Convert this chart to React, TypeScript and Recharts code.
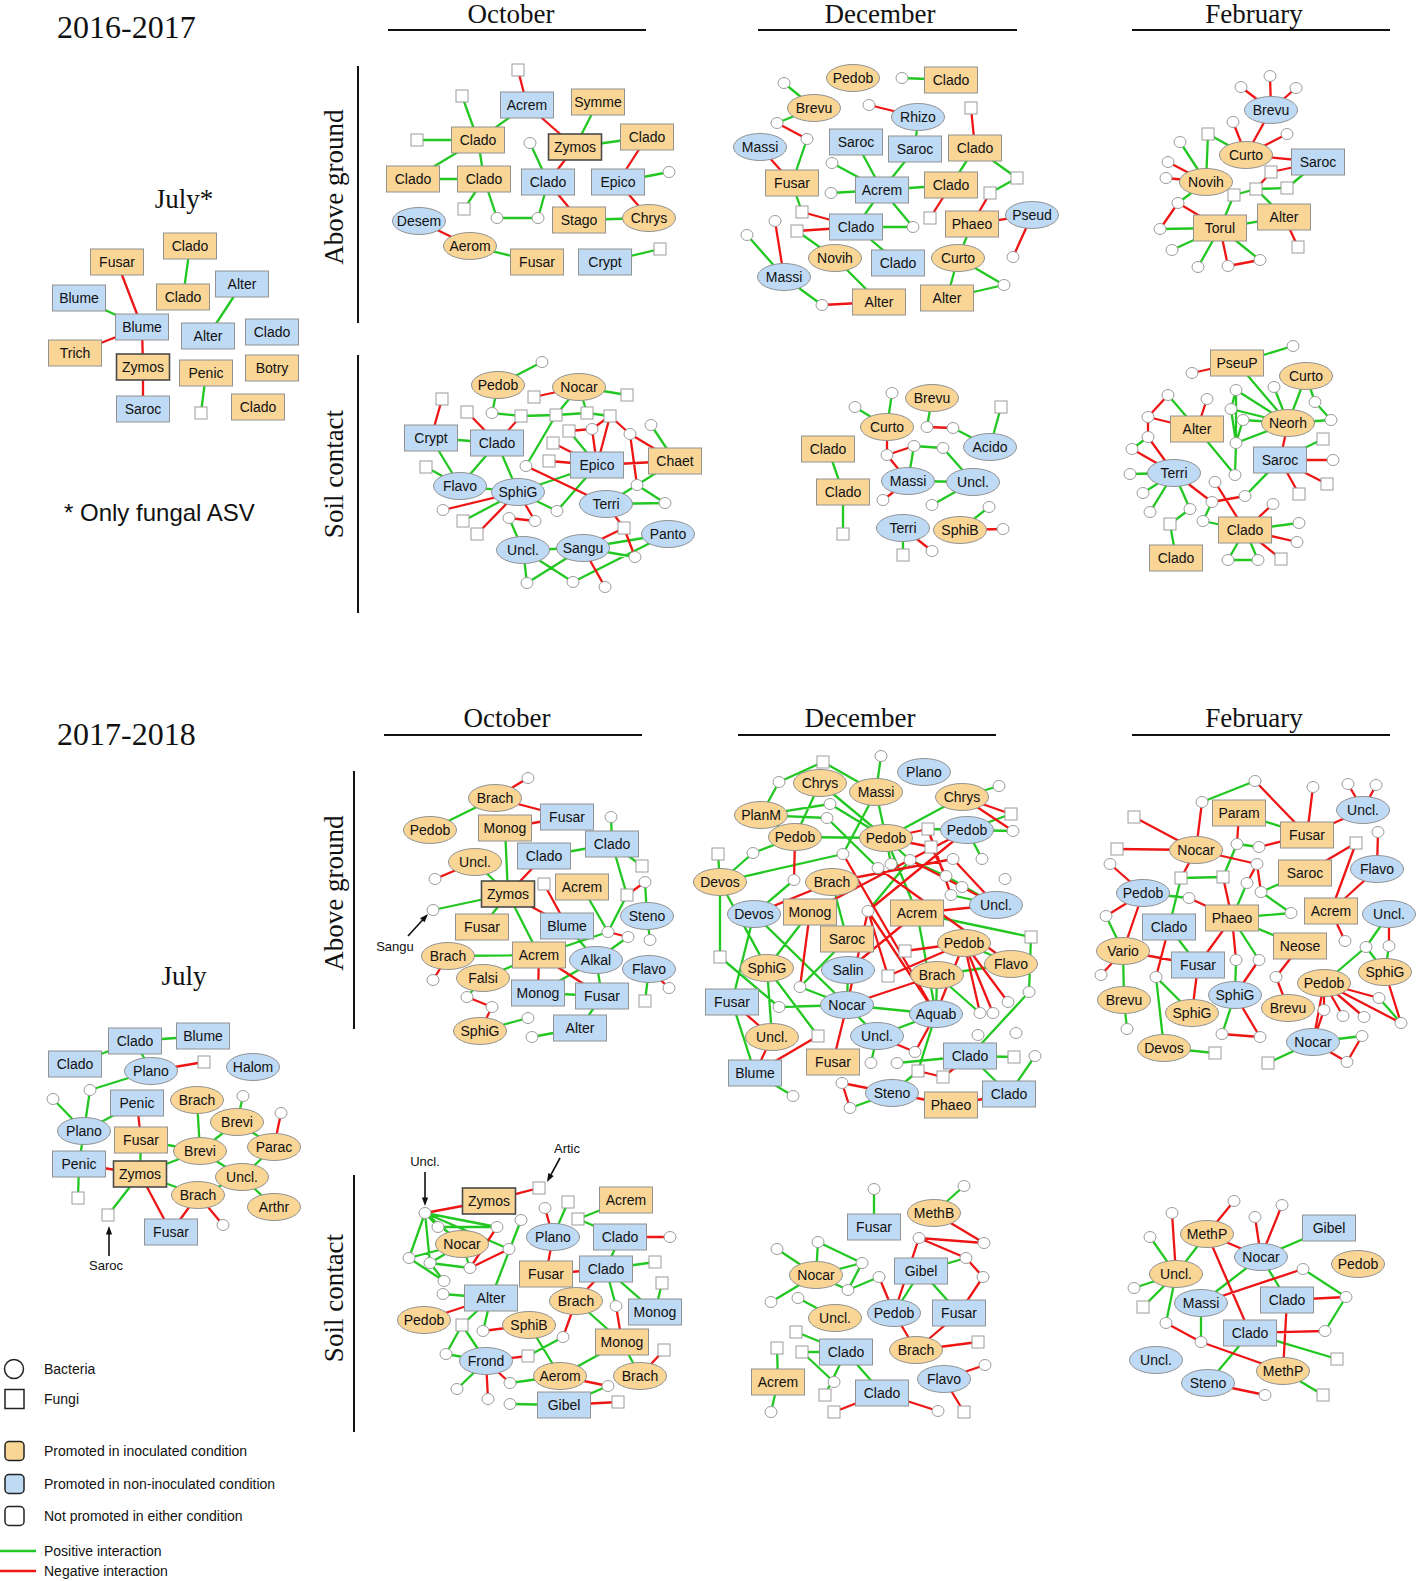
import React from "react";
import { ComposedChart, XAxis, YAxis, Line, Scatter } from "recharts";

// node: [label, x, y, kind, promoted]  kind: R = fungus (labelled), E = bacterium (labelled), s = fungus, c = bacterium
// promoted: o = inoculated, b = non-inoculated, w = neither
type N = [string, number, number, string, string?];
// link: [from, to, sign]  p = positive, n = negative
type L = [number, number, string];

const W = 1419;
const H = 1581;

// ---------- 2016-2017 ----------
const july16: N[] = [
  ["Fusar", 117, 262, "R", "o"], ["Clado", 190, 246, "R", "o"], ["Clado", 183, 297, "R", "o"],
  ["Alter", 242, 284, "R", "b"], ["Blume", 79, 298, "R", "b"], ["Blume", 142, 327, "R", "b"],
  ["Alter", 208, 336, "R", "b"], ["Clado", 272, 332, "R", "b"], ["Trich", 75, 353, "R", "o"],
  ["Zymos", 143, 367, "R", "o"], ["Penic", 206, 373, "R", "o"], ["Botry", 272, 368, "R", "o"],
  ["Saroc", 143, 409, "R", "b"], ["", 201, 413, "s"], ["Clado", 258, 407, "R", "o"],
];
const july16Links: L[] = [
  [0, 5, "n"], [1, 2, "p"], [3, 6, "p"], [4, 5, "p"], [5, 8, "n"], [5, 9, "n"], [9, 12, "n"], [10, 13, "p"],
];

const oct16Above: N[] = [
  ["", 518, 70, "s"], ["Acrem", 527, 105, "R", "b"], ["Symme", 598, 102, "R", "o"], ["", 462, 96, "s"],
  ["Clado", 478, 140, "R", "o"], ["", 417, 140, "s"], ["Zymos", 575, 147, "R", "o"], ["Clado", 647, 137, "R", "o"],
  ["", 530, 143, "c"], ["Clado", 413, 179, "R", "o"], ["Clado", 484, 179, "R", "o"], ["Clado", 548, 182, "R", "b"],
  ["Epico", 618, 182, "R", "b"], ["", 669, 172, "c"], ["", 464, 209, "s"], ["", 497, 218, "c"],
  ["", 538, 218, "c"], ["Stago", 579, 220, "R", "o"], ["Chrys", 649, 218, "E", "o"], ["Desem", 419, 221, "E", "b"],
  ["Aerom", 470, 246, "E", "o"], ["Fusar", 537, 262, "R", "o"], ["Crypt", 605, 262, "R", "b"], ["", 660, 249, "s"],
];
const oct16AboveLinks: L[] = [
  [0, 1, "n"], [1, 4, "p"], [1, 6, "n"], [2, 6, "p"], [3, 4, "p"], [5, 4, "p"], [4, 9, "p"], [4, 10, "p"],
  [9, 10, "p"], [6, 7, "p"], [6, 11, "n"], [7, 12, "n"], [12, 13, "p"], [12, 18, "n"], [8, 11, "p"],
  [10, 14, "p"], [10, 15, "p"], [15, 16, "p"], [16, 11, "p"], [11, 17, "n"], [17, 18, "p"], [19, 20, "n"],
  [20, 21, "p"], [22, 23, "p"],
];

const dec16Above: N[] = [
  ["Pedob", 853, 78, "E", "o"], ["", 902, 78, "c"], ["Clado", 951, 80, "R", "o"], ["", 784, 83, "c"],
  ["Brevu", 814, 108, "E", "o"], ["", 869, 105, "c"], ["Rhizo", 918, 117, "E", "b"], ["", 971, 108, "s"],
  ["", 777, 123, "c"], ["", 807, 139, "c"], ["Massi", 760, 147, "E", "b"], ["Saroc", 856, 142, "R", "b"],
  ["Saroc", 915, 149, "R", "b"], ["Clado", 975, 148, "R", "o"], ["Fusar", 792, 183, "R", "o"], ["", 832, 163, "c"],
  ["Acrem", 882, 190, "R", "b"], ["Clado", 951, 185, "R", "o"], ["", 831, 193, "c"], ["", 1017, 178, "s"],
  ["", 990, 193, "s"], ["", 802, 212, "s"], ["", 930, 218, "s"], ["Clado", 856, 227, "R", "b"],
  ["Phaeo", 972, 224, "R", "o"], ["Pseud", 1032, 215, "E", "b"], ["", 913, 227, "c"], ["", 797, 231, "s"],
  ["", 775, 221, "c"], ["", 747, 235, "c"], ["Novih", 835, 258, "E", "o"], ["Clado", 898, 263, "R", "b"],
  ["Curto", 958, 258, "E", "o"], ["", 1013, 257, "c"], ["Massi", 784, 277, "E", "b"], ["Alter", 879, 302, "R", "o"],
  ["Alter", 947, 298, "R", "o"], ["", 822, 305, "c"], ["", 1004, 285, "c"],
];
const dec16AboveLinks: L[] = [
  [1, 2, "p"], [3, 4, "p"], [4, 8, "p"], [8, 9, "n"], [9, 14, "p"], [5, 6, "n"], [6, 12, "p"], [7, 13, "n"],
  [10, 14, "n"], [11, 16, "p"], [12, 16, "p"], [15, 16, "p"], [18, 16, "p"], [16, 17, "p"], [13, 17, "p"],
  [13, 19, "p"], [19, 20, "p"], [20, 24, "n"], [17, 22, "n"], [16, 23, "p"], [16, 26, "p"], [23, 26, "p"],
  [14, 21, "p"], [21, 23, "n"], [27, 23, "n"], [27, 30, "p"], [23, 31, "p"], [24, 25, "n"], [25, 33, "n"],
  [24, 32, "p"], [32, 36, "p"], [32, 38, "p"], [36, 38, "p"], [28, 34, "n"], [29, 34, "p"], [30, 35, "p"],
  [34, 37, "p"], [37, 35, "n"],
];

const feb16Above: N[] = [
  ["", 1270, 76, "c"], ["", 1241, 87, "c"], ["", 1296, 88, "c"], ["Brevu", 1271, 110, "E", "b"],
  ["", 1233, 122, "c"], ["", 1287, 134, "c"], ["", 1208, 134, "s"], ["", 1180, 142, "c"],
  ["Curto", 1246, 155, "E", "o"], ["Saroc", 1318, 162, "R", "b"], ["", 1168, 162, "c"], ["", 1271, 172, "s"],
  ["Novih", 1206, 182, "E", "o"], ["", 1166, 178, "c"], ["", 1256, 189, "s"], ["", 1287, 188, "s"],
  ["", 1234, 195, "s"], ["", 1178, 203, "c"], ["Alter", 1284, 217, "R", "o"], ["Torul", 1220, 228, "R", "o"],
  ["", 1160, 229, "c"], ["", 1298, 247, "s"], ["", 1172, 250, "c"], ["", 1198, 267, "c"],
  ["", 1228, 266, "c"], ["", 1260, 260, "c"],
];
const feb16AboveLinks: L[] = [
  [0, 3, "n"], [1, 3, "n"], [2, 3, "n"], [3, 8, "n"], [4, 8, "n"], [5, 8, "n"], [6, 8, "p"], [6, 12, "p"],
  [7, 12, "p"], [8, 9, "n"], [10, 12, "n"], [13, 12, "n"], [9, 11, "n"], [11, 14, "n"], [9, 15, "p"],
  [14, 15, "p"], [14, 16, "p"], [14, 18, "p"], [16, 19, "p"], [12, 17, "p"], [17, 19, "n"], [17, 20, "n"],
  [20, 19, "p"], [18, 19, "p"], [18, 21, "n"], [19, 22, "p"], [19, 23, "p"], [19, 24, "n"], [19, 25, "p"],
  [24, 25, "n"],
];

const oct16Soil: N[] = [
  ["", 542, 362, "c"], ["Pedob", 498, 385, "E", "o"], ["Nocar", 579, 387, "E", "o"], ["", 534, 397, "s"],
  ["", 627, 395, "s"], ["", 442, 399, "s"], ["", 467, 412, "s"], ["", 492, 413, "c"],
  ["", 521, 416, "s"], ["", 556, 415, "s"], ["", 587, 413, "s"], ["", 610, 416, "s"],
  ["", 651, 425, "c"], ["Crypt", 431, 438, "R", "b"], ["Clado", 497, 443, "R", "b"], ["", 569, 431, "s"],
  ["", 592, 429, "c"], ["", 630, 434, "c"], ["", 553, 443, "s"], ["", 549, 461, "s"],
  ["Epico", 597, 465, "R", "b"], ["Chaet", 675, 461, "R", "o"], ["", 426, 467, "s"], ["", 526, 466, "c"],
  ["Flavo", 460, 486, "E", "b"], ["SphiG", 518, 492, "E", "b"], ["", 637, 485, "c"], ["Terri", 606, 504, "E", "b"],
  ["", 665, 503, "c"], ["", 443, 510, "c"], ["", 557, 511, "c"], ["", 463, 521, "s"],
  ["", 509, 518, "c"], ["", 535, 521, "c"], ["", 477, 534, "s"], ["", 624, 528, "s"],
  ["Uncl.", 523, 550, "E", "b"], ["Sangu", 583, 548, "E", "b"], ["Panto", 668, 534, "E", "b"], ["", 635, 557, "c"],
  ["", 527, 583, "c"], ["", 573, 582, "c"], ["", 605, 587, "c"],
];
const oct16SoilLinks: L[] = [
  [0, 1, "p"], [2, 4, "p"], [1, 7, "p"], [7, 8, "p"], [8, 9, "p"], [9, 10, "p"], [10, 11, "p"], [2, 9, "p"],
  [2, 10, "p"], [9, 23, "p"], [12, 21, "p"], [13, 14, "p"], [13, 24, "p"], [14, 24, "p"], [14, 25, "p"],
  [22, 24, "p"], [24, 25, "p"], [15, 20, "p"], [25, 20, "p"], [20, 30, "p"], [25, 30, "p"], [21, 26, "p"],
  [26, 27, "p"], [26, 28, "p"], [27, 28, "p"], [25, 31, "p"], [32, 36, "p"], [36, 37, "p"], [37, 38, "p"],
  [37, 39, "p"], [38, 41, "p"], [36, 41, "p"], [37, 40, "p"], [36, 40, "p"],
  [2, 3, "n"], [5, 13, "n"], [6, 14, "n"], [8, 14, "n"], [11, 16, "n"], [11, 17, "n"], [17, 21, "n"],
  [15, 16, "n"], [16, 20, "n"], [11, 20, "n"], [18, 20, "n"], [19, 20, "n"], [20, 21, "n"], [23, 27, "n"],
  [17, 26, "n"], [25, 29, "n"], [25, 33, "n"], [25, 34, "n"], [32, 33, "n"], [27, 35, "n"], [35, 37, "n"],
  [35, 39, "n"], [37, 42, "n"],
];

const dec16Soil: N[] = [
  ["", 892, 393, "c"], ["Brevu", 932, 398, "E", "o"], ["", 855, 407, "c"], ["Curto", 887, 427, "E", "o"],
  ["", 927, 427, "c"], ["", 953, 428, "c"], ["", 1001, 407, "s"], ["Clado", 828, 449, "R", "o"],
  ["Acido", 990, 447, "E", "b"], ["", 914, 446, "c"], ["", 943, 448, "c"], ["", 887, 455, "c"],
  ["Massi", 908, 481, "E", "b"], ["Uncl.", 973, 482, "E", "b"], ["Clado", 843, 492, "R", "o"], ["", 883, 500, "c"],
  ["", 932, 505, "c"], ["", 989, 507, "c"], ["", 843, 534, "s"], ["Terri", 903, 528, "E", "b"],
  ["SphiB", 960, 530, "E", "o"], ["", 1003, 529, "c"], ["", 903, 555, "s"], ["", 932, 551, "c"],
];
const dec16SoilLinks: L[] = [
  [0, 3, "p"], [2, 3, "p"], [1, 4, "p"], [4, 5, "n"], [5, 8, "p"], [6, 8, "p"], [3, 11, "n"], [11, 9, "n"],
  [9, 10, "p"], [10, 13, "p"], [9, 12, "p"], [11, 12, "n"], [12, 13, "p"], [12, 15, "n"], [13, 16, "p"],
  [7, 14, "p"], [14, 18, "p"], [19, 22, "p"], [19, 23, "n"], [20, 17, "p"], [20, 21, "n"],
];

const feb16Soil: N[] = [
  ["", 1293, 346, "c"], ["PseuP", 1237, 363, "R", "o"], ["", 1192, 373, "c"], ["Curto", 1306, 376, "E", "o"],
  ["", 1274, 387, "c"], ["", 1236, 390, "c"], ["", 1168, 395, "c"], ["", 1207, 399, "c"],
  ["", 1315, 402, "c"], ["", 1231, 409, "c"], ["", 1148, 417, "c"], ["Alter", 1197, 429, "R", "o"],
  ["", 1243, 420, "c"], ["Neorh", 1288, 423, "E", "o"], ["", 1331, 420, "c"], ["", 1148, 437, "c"],
  ["", 1323, 439, "s"], ["", 1236, 443, "c"], ["", 1132, 449, "c"], ["Saroc", 1280, 460, "R", "b"],
  ["", 1333, 460, "c"], ["Terri", 1174, 473, "E", "b"], ["", 1130, 474, "c"], ["", 1235, 475, "c"],
  ["", 1215, 482, "c"], ["", 1327, 484, "s"], ["", 1143, 493, "c"], ["", 1245, 496, "c"],
  ["", 1299, 494, "s"], ["", 1212, 502, "c"], ["", 1273, 504, "c"], ["", 1190, 509, "c"],
  ["", 1150, 512, "c"], ["", 1170, 524, "s"], ["Clado", 1245, 530, "R", "o"], ["", 1203, 521, "c"],
  ["", 1299, 523, "c"], ["", 1297, 542, "c"], ["Clado", 1176, 558, "R", "o"], ["", 1228, 560, "c"],
  ["", 1258, 560, "c"], ["", 1281, 559, "s"],
];
const feb16SoilLinks: L[] = [
  [0, 1, "p"], [1, 13, "p"], [3, 13, "p"], [3, 8, "p"], [4, 13, "p"], [8, 14, "p"], [13, 14, "p"], [5, 13, "p"],
  [5, 17, "p"], [9, 13, "p"], [12, 13, "p"], [5, 9, "p"], [9, 17, "p"], [12, 17, "p"], [17, 13, "p"],
  [17, 23, "p"], [11, 23, "p"], [6, 11, "p"], [15, 18, "p"], [22, 21, "p"], [21, 26, "p"], [21, 32, "p"],
  [21, 31, "p"], [31, 33, "p"], [33, 38, "p"], [19, 16, "p"], [19, 27, "p"], [29, 35, "p"], [35, 34, "p"],
  [34, 36, "p"], [34, 39, "p"], [34, 40, "p"], [39, 40, "p"],
  [1, 2, "n"], [6, 10, "n"], [10, 11, "n"], [7, 11, "n"], [10, 15, "n"], [15, 21, "n"], [18, 21, "n"],
  [21, 29, "n"], [13, 19, "n"], [19, 20, "n"], [19, 25, "n"], [19, 28, "n"], [27, 29, "n"], [24, 34, "n"],
  [30, 34, "n"], [34, 37, "n"], [34, 41, "n"],
];

// ---------- 2017-2018 ----------
const july17: N[] = [
  ["Clado", 135, 1041, "R", "b"], ["Blume", 203, 1036, "R", "b"], ["Clado", 75, 1064, "R", "b"],
  ["Plano", 151, 1071, "E", "b"], ["", 204, 1062, "s"], ["Halom", 253, 1067, "E", "b"], ["", 90, 1090, "c"],
  ["", 53, 1099, "c"], ["Penic", 137, 1103, "R", "b"], ["Brach", 197, 1100, "E", "o"], ["", 243, 1096, "c"],
  ["Brevi", 237, 1122, "E", "o"], ["", 281, 1113, "c"], ["Plano", 84, 1131, "E", "b"], ["Fusar", 141, 1140, "R", "o"],
  ["Brevi", 200, 1151, "E", "o"], ["Parac", 274, 1147, "E", "o"], ["Penic", 79, 1164, "R", "b"],
  ["Zymos", 140, 1174, "R", "o"], ["Uncl.", 242, 1177, "E", "o"], ["Brach", 198, 1195, "E", "o"],
  ["Arthr", 274, 1207, "E", "o"], ["", 78, 1198, "s"], ["", 108, 1215, "s"], ["", 223, 1225, "c"],
  ["Fusar", 171, 1232, "R", "b"],
];
const july17Links: L[] = [
  [0, 1, "p"], [0, 2, "p"], [0, 3, "p"], [3, 4, "n"], [3, 6, "p"], [6, 13, "p"], [7, 13, "p"], [13, 8, "p"],
  [13, 17, "p"], [8, 14, "n"], [14, 18, "p"], [17, 18, "n"], [17, 22, "p"], [14, 15, "p"], [9, 15, "p"],
  [11, 15, "p"], [10, 11, "p"], [11, 16, "p"], [12, 16, "n"], [18, 15, "p"], [15, 19, "p"], [16, 19, "p"],
  [19, 21, "p"], [19, 20, "p"], [18, 20, "p"], [18, 23, "p"], [18, 25, "n"], [20, 25, "n"], [20, 24, "n"],
];

const oct17Above: N[] = [
  ["", 528, 778, "c"], ["Brach", 495, 798, "E", "o"], ["Pedob", 430, 830, "E", "o"], ["Fusar", 567, 817, "R", "b"],
  ["Monog", 505, 828, "R", "o"], ["", 611, 817, "c"], ["Clado", 612, 844, "R", "b"], ["Clado", 544, 856, "R", "b"],
  ["Uncl.", 475, 862, "E", "o"], ["", 642, 866, "s"], ["", 435, 879, "c"], ["", 544, 884, "s"],
  ["Acrem", 582, 887, "R", "o"], ["", 645, 882, "c"], ["", 627, 895, "s"], ["Zymos", 508, 894, "R", "o"],
  ["", 433, 910, "c"], ["Steno", 647, 916, "E", "b"], ["Fusar", 482, 927, "R", "o"], ["Blume", 567, 926, "R", "b"],
  ["", 608, 932, "c"], ["", 628, 937, "c"], ["", 650, 940, "c"], ["Brach", 448, 956, "E", "o"],
  ["Acrem", 539, 955, "R", "o"], ["Alkal", 596, 960, "E", "b"], ["Flavo", 649, 969, "E", "b"], ["Falsi", 483, 978, "E", "o"],
  ["", 433, 980, "c"], ["Monog", 538, 993, "R", "b"], ["Fusar", 602, 996, "R", "b"], ["", 669, 988, "c"],
  ["", 645, 1001, "s"], ["", 467, 997, "c"], ["", 492, 1007, "c"], ["SphiG", 480, 1031, "E", "o"],
  ["", 528, 1018, "c"], ["Alter", 580, 1028, "R", "b"], ["", 532, 1037, "c"],
];
const oct17AboveLinks: L[] = [
  [0, 1, "n"], [1, 2, "p"], [1, 3, "n"], [3, 4, "n"], [4, 15, "p"], [5, 6, "p"], [6, 7, "p"], [6, 9, "p"],
  [6, 14, "p"], [7, 15, "n"], [8, 10, "n"], [8, 15, "p"], [11, 19, "n"], [15, 19, "n"], [15, 16, "p"],
  [15, 18, "p"], [15, 24, "p"], [12, 20, "p"], [14, 20, "p"], [13, 14, "n"], [13, 17, "p"], [17, 22, "p"],
  [20, 21, "n"], [20, 24, "p"], [21, 25, "p"], [19, 25, "p"], [23, 24, "p"], [23, 28, "n"], [24, 27, "p"],
  [24, 29, "n"], [24, 30, "n"], [25, 29, "p"], [25, 30, "p"], [29, 30, "p"], [27, 33, "p"], [33, 34, "n"],
  [34, 35, "n"], [35, 36, "p"], [30, 37, "p"], [37, 38, "p"], [26, 31, "n"], [26, 32, "p"],
];

const dec17Above: N[] = [
  ["", 823, 762, "s"], ["", 881, 756, "c"], ["Plano", 924, 772, "E", "b"], ["", 779, 782, "c"],
  ["Chrys", 820, 783, "E", "o"], ["Massi", 876, 792, "E", "o"], ["", 999, 786, "c"], ["Chrys", 962, 797, "E", "o"],
  ["PlanM", 761, 815, "E", "o"], ["", 830, 804, "c"], ["", 827, 818, "c"], ["", 1011, 814, "s"],
  ["Pedob", 795, 837, "E", "o"], ["Pedob", 886, 838, "E", "o"], ["", 928, 829, "s"], ["Pedob", 967, 830, "E", "b"],
  ["", 1013, 831, "c"], ["", 931, 847, "s"], ["", 718, 854, "s"], ["", 753, 853, "c"],
  ["", 843, 854, "c"], ["", 910, 860, "c"], ["", 953, 859, "c"], ["", 982, 859, "c"],
  ["", 891, 864, "c"], ["", 878, 868, "c"], ["Devos", 720, 882, "E", "o"], ["", 794, 880, "c"],
  ["Brach", 832, 882, "E", "o"], ["", 946, 876, "c"], ["", 962, 887, "c"], ["", 1005, 879, "c"],
  ["", 951, 895, "c"], ["Uncl.", 996, 905, "E", "b"], ["Devos", 754, 914, "E", "b"], ["Monog", 810, 912, "R", "o"],
  ["", 868, 911, "c"], ["Acrem", 917, 913, "R", "o"], ["Saroc", 847, 939, "R", "o"], ["", 1031, 937, "s"],
  ["", 905, 951, "s"], ["Pedob", 964, 943, "E", "o"], ["", 720, 957, "s"], ["SphiG", 767, 968, "E", "o"],
  ["Salin", 848, 970, "E", "b"], ["", 888, 976, "s"], ["Brach", 937, 975, "E", "o"], ["Flavo", 1011, 964, "E", "o"],
  ["", 800, 987, "c"], ["Fusar", 732, 1002, "R", "b"], ["", 779, 1007, "c"], ["Nocar", 847, 1005, "E", "b"],
  ["Aquab", 936, 1014, "E", "b"], ["", 1029, 992, "c"], ["", 1008, 1002, "c"], ["", 993, 1013, "c"],
  ["", 980, 1013, "c"], ["Uncl.", 772, 1037, "E", "o"], ["", 818, 1036, "s"], ["Uncl.", 877, 1036, "E", "b"],
  ["", 978, 1035, "c"], ["", 915, 1052, "c"], ["", 1016, 1033, "c"], ["Fusar", 833, 1062, "R", "o"],
  ["Clado", 970, 1056, "R", "b"], ["", 1014, 1057, "s"], ["", 1035, 1056, "c"], ["", 871, 1063, "c"],
  ["", 897, 1063, "c"], ["Blume", 755, 1073, "R", "b"], ["", 918, 1071, "s"], ["", 943, 1077, "s"],
  ["", 842, 1083, "c"], ["Steno", 892, 1093, "E", "b"], ["", 793, 1096, "c"], ["Clado", 1009, 1094, "R", "b"],
  ["Phaeo", 951, 1105, "R", "o"], ["", 850, 1108, "c"],
];
const dec17AboveLinks: L[] = [
  [0, 3, "p"], [0, 5, "p"], [3, 8, "p"], [1, 5, "p"], [4, 12, "p"], [4, 13, "p"], [5, 13, "p"], [5, 20, "p"],
  [8, 9, "p"], [8, 10, "p"], [8, 12, "p"], [9, 13, "p"], [10, 25, "p"], [12, 13, "p"], [12, 19, "p"],
  [19, 26, "p"], [20, 26, "p"], [13, 7, "p"], [7, 6, "p"], [15, 16, "p"], [15, 23, "p"], [11, 15, "p"],
  [13, 21, "p"], [13, 24, "p"], [21, 29, "p"], [29, 33, "p"], [32, 33, "p"], [26, 18, "p"], [26, 42, "p"],
  [26, 43, "p"], [42, 50, "p"], [50, 51, "p"], [34, 49, "p"], [34, 27, "p"], [34, 51, "p"], [43, 57, "p"],
  [43, 58, "p"], [43, 35, "p"], [48, 51, "p"], [44, 51, "p"], [38, 28, "p"], [51, 52, "p"], [51, 59, "p"],
  [52, 59, "p"], [59, 67, "p"], [68, 64, "p"], [64, 65, "p"], [64, 75, "p"], [64, 53, "p"], [53, 39, "p"],
  [39, 37, "p"], [37, 52, "p"], [46, 47, "p"], [46, 52, "p"], [41, 47, "p"], [46, 56, "p"], [75, 66, "p"],
  [73, 70, "p"], [73, 77, "p"], [52, 70, "p"], [69, 74, "p"], [49, 69, "p"], [36, 21, "p"], [38, 48, "p"],
  [13, 37, "p"], [14, 15, "p"],
  [7, 11, "n"], [7, 16, "n"], [13, 14, "n"], [13, 17, "n"], [12, 27, "n"], [28, 34, "n"], [35, 15, "n"],
  [36, 52, "n"], [20, 52, "n"], [25, 47, "n"], [22, 33, "n"], [30, 33, "n"], [37, 33, "n"], [40, 41, "n"],
  [45, 41, "n"], [41, 54, "n"], [41, 55, "n"], [41, 52, "n"], [41, 56, "n"], [44, 37, "n"], [51, 46, "n"],
  [52, 61, "n"], [59, 61, "n"], [73, 72, "n"], [72, 77, "n"], [73, 76, "n"], [76, 75, "n"], [70, 71, "n"],
  [71, 64, "n"], [57, 69, "n"], [49, 57, "n"], [58, 69, "n"], [51, 63, "n"], [35, 48, "n"], [17, 29, "n"],
  [21, 30, "n"], [36, 45, "n"], [15, 36, "n"], [36, 51, "n"], [28, 22, "n"], [14, 32, "n"],
];

const feb17Above: N[] = [
  ["", 1255, 781, "c"], ["", 1313, 787, "c"], ["", 1348, 784, "c"], ["", 1376, 785, "c"],
  ["", 1134, 817, "s"], ["", 1202, 802, "c"], ["Param", 1239, 813, "R", "o"], ["Uncl.", 1363, 810, "E", "b"],
  ["Fusar", 1307, 835, "R", "o"], ["", 1378, 832, "c"], ["", 1117, 849, "s"], ["Nocar", 1196, 850, "E", "o"],
  ["", 1237, 844, "c"], ["", 1259, 847, "c"], ["", 1356, 843, "s"], ["", 1110, 864, "c"],
  ["", 1257, 864, "c"], ["Saroc", 1305, 873, "R", "o"], ["Flavo", 1377, 869, "E", "b"], ["", 1181, 878, "s"],
  ["", 1223, 877, "s"], ["", 1247, 883, "c"], ["Pedob", 1143, 893, "E", "b"], ["", 1261, 892, "c"],
  ["", 1189, 898, "c"], ["Acrem", 1331, 911, "R", "o"], ["Uncl.", 1389, 914, "E", "b"], ["Phaeo", 1232, 918, "R", "o"],
  ["", 1291, 913, "c"], ["", 1106, 916, "c"], ["Clado", 1169, 927, "R", "b"], ["Neose", 1300, 946, "R", "o"],
  ["", 1345, 941, "c"], ["Vario", 1123, 951, "E", "o"], ["", 1366, 947, "c"], ["", 1389, 946, "c"],
  ["Fusar", 1198, 965, "R", "b"], ["", 1236, 960, "c"], ["", 1259, 960, "c"], ["SphiG", 1385, 972, "E", "o"],
  ["", 1101, 975, "c"], ["", 1156, 977, "c"], ["", 1276, 977, "c"], ["Pedob", 1324, 983, "E", "o"],
  ["Brevu", 1124, 1000, "E", "o"], ["SphiG", 1235, 995, "E", "b"], ["Brevu", 1288, 1008, "E", "o"], ["SphiG", 1192, 1013, "E", "o"],
  ["", 1379, 998, "c"], ["", 1324, 1010, "c"], ["", 1343, 1016, "c"], ["", 1364, 1017, "c"],
  ["", 1401, 1023, "c"], ["", 1127, 1029, "c"], ["", 1222, 1034, "c"], ["", 1260, 1037, "c"],
  ["", 1362, 1036, "c"], ["Devos", 1164, 1048, "E", "o"], ["Nocar", 1313, 1042, "E", "b"], ["", 1215, 1053, "s"],
  ["", 1268, 1063, "s"], ["", 1347, 1062, "c"],
];
const feb17AboveLinks: L[] = [
  [5, 0, "p"], [6, 8, "p"], [12, 13, "p"], [12, 20, "p"], [19, 20, "p"], [21, 27, "p"], [17, 23, "p"],
  [23, 28, "p"], [27, 28, "p"], [27, 31, "p"], [22, 24, "p"], [29, 33, "p"], [33, 44, "p"], [44, 53, "p"],
  [19, 30, "p"], [30, 36, "p"], [41, 47, "p"], [41, 57, "p"], [57, 59, "p"], [27, 38, "p"], [37, 45, "p"],
  [45, 54, "p"], [34, 43, "p"], [34, 39, "p"], [35, 39, "p"], [48, 52, "p"], [58, 56, "p"], [58, 60, "p"],
  [26, 34, "p"],
  [0, 8, "n"], [1, 8, "n"], [2, 7, "n"], [3, 7, "n"], [7, 8, "n"], [6, 12, "n"], [13, 8, "n"], [4, 11, "n"],
  [10, 11, "n"], [5, 11, "n"], [11, 16, "n"], [11, 19, "n"], [20, 27, "n"], [16, 21, "n"], [16, 23, "n"],
  [14, 25, "n"], [14, 17, "n"], [9, 18, "n"], [18, 25, "n"], [25, 32, "n"], [31, 42, "n"], [42, 46, "n"],
  [15, 22, "n"], [24, 27, "n"], [22, 29, "n"], [22, 33, "n"], [33, 40, "n"], [33, 36, "n"], [30, 41, "n"],
  [27, 36, "n"], [36, 47, "n"], [27, 37, "n"], [38, 45, "n"], [45, 55, "n"], [54, 55, "n"], [39, 52, "n"],
  [43, 48, "n"], [43, 49, "n"], [43, 50, "n"], [43, 51, "n"], [43, 52, "n"], [43, 58, "n"], [49, 58, "n"],
  [56, 61, "n"], [58, 61, "n"], [26, 35, "n"],
];

const oct17Soil: N[] = [
  ["Zymos", 489, 1201, "R", "o"], ["", 539, 1188, "s"], ["Acrem", 626, 1200, "R", "o"], ["", 425, 1213, "c"],
  ["", 545, 1208, "c"], ["", 568, 1202, "s"], ["", 521, 1220, "c"], ["", 438, 1227, "c"],
  ["", 497, 1227, "c"], ["", 578, 1219, "s"], ["Nocar", 462, 1244, "E", "o"], ["Plano", 553, 1237, "E", "b"],
  ["Clado", 620, 1237, "R", "b"], ["", 670, 1237, "c"], ["", 509, 1249, "c"], ["", 409, 1258, "c"],
  ["", 430, 1263, "c"], ["", 470, 1268, "c"], ["", 444, 1281, "c"], ["Fusar", 546, 1274, "R", "o"],
  ["Clado", 606, 1269, "R", "b"], ["", 655, 1262, "s"], ["", 662, 1283, "s"], ["", 443, 1294, "c"],
  ["Alter", 491, 1298, "R", "b"], ["Brach", 576, 1301, "E", "o"], ["Monog", 655, 1312, "R", "b"], ["Pedob", 424, 1320, "E", "o"],
  ["", 462, 1325, "s"], ["", 483, 1331, "c"], ["SphiB", 529, 1325, "E", "o"], ["", 616, 1306, "c"],
  ["Monog", 622, 1342, "R", "o"], ["", 563, 1337, "c"], ["", 664, 1350, "s"], ["", 446, 1354, "c"],
  ["Frond", 486, 1361, "E", "b"], ["", 528, 1356, "s"], ["Aerom", 560, 1376, "E", "o"], ["Brach", 640, 1376, "E", "o"],
  ["", 510, 1383, "c"], ["", 608, 1386, "c"], ["", 457, 1389, "c"], ["", 488, 1399, "c"],
  ["", 510, 1404, "c"], ["Gibel", 564, 1405, "R", "b"], ["", 618, 1402, "s"],
];
const oct17SoilLinks: L[] = [
  [3, 7, "p"], [3, 8, "p"], [3, 10, "p"], [3, 15, "p"], [3, 16, "p"], [3, 14, "p"], [7, 8, "p"], [10, 17, "p"],
  [10, 16, "p"], [16, 18, "p"], [16, 17, "p"], [15, 10, "p"], [6, 24, "p"], [5, 11, "p"], [9, 12, "p"],
  [2, 9, "p"], [12, 20, "p"], [20, 21, "p"], [20, 26, "p"], [22, 26, "p"], [20, 31, "p"], [25, 32, "p"],
  [23, 24, "p"], [24, 28, "p"], [24, 29, "p"], [28, 36, "p"], [28, 35, "p"], [30, 38, "p"], [33, 37, "p"],
  [35, 36, "p"], [36, 42, "p"], [38, 40, "p"], [32, 38, "p"], [32, 39, "p"], [41, 45, "p"], [44, 45, "p"],
  [15, 18, "p"],
  [0, 3, "n"], [0, 1, "n"], [8, 17, "n"], [14, 17, "n"], [4, 11, "n"], [11, 19, "n"], [12, 13, "n"],
  [19, 20, "n"], [20, 25, "n"], [31, 32, "n"], [25, 33, "n"], [24, 27, "n"], [29, 30, "n"], [36, 37, "n"],
  [36, 43, "n"], [36, 40, "n"], [38, 41, "n"], [39, 34, "n"], [45, 46, "n"],
];

const dec17Soil: N[] = [
  ["", 964, 1186, "c"], ["", 874, 1189, "c"], ["MethB", 934, 1213, "E", "o"], ["Fusar", 874, 1227, "R", "b"],
  ["", 818, 1242, "c"], ["", 919, 1238, "c"], ["", 984, 1243, "c"], ["", 777, 1249, "c"],
  ["", 862, 1263, "c"], ["", 966, 1258, "c"], ["Nocar", 816, 1275, "E", "o"], ["Gibel", 921, 1271, "R", "b"],
  ["", 879, 1277, "c"], ["", 983, 1277, "c"], ["", 848, 1290, "c"], ["", 798, 1298, "c"],
  ["", 771, 1302, "c"], ["Uncl.", 835, 1318, "E", "o"], ["Pedob", 894, 1313, "E", "b"], ["Fusar", 959, 1313, "R", "b"],
  ["", 796, 1332, "s"], ["", 802, 1352, "s"], ["Clado", 846, 1352, "R", "b"], ["Brach", 916, 1350, "E", "o"],
  ["", 978, 1342, "s"], ["", 777, 1348, "s"], ["", 834, 1382, "c"], ["Acrem", 778, 1382, "R", "o"],
  ["Flavo", 944, 1379, "E", "b"], ["", 985, 1365, "c"], ["", 825, 1395, "s"], ["Clado", 882, 1393, "R", "b"],
  ["", 834, 1412, "s"], ["", 938, 1411, "c"], ["", 964, 1412, "s"], ["", 771, 1412, "c"],
];
const dec17SoilLinks: L[] = [
  [1, 3, "p"], [0, 2, "p"], [11, 9, "p"], [11, 18, "p"], [11, 19, "p"], [7, 10, "p"], [4, 10, "p"], [4, 8, "p"],
  [8, 10, "p"], [8, 14, "p"], [10, 14, "p"], [14, 12, "p"], [10, 16, "p"], [15, 17, "p"], [20, 22, "p"],
  [21, 22, "p"], [21, 26, "p"], [22, 31, "p"], [22, 30, "p"], [25, 27, "p"], [27, 35, "p"],
  [2, 6, "n"], [5, 6, "n"], [5, 9, "n"], [5, 18, "n"], [9, 13, "n"], [13, 19, "n"], [12, 18, "n"],
  [18, 23, "n"], [19, 23, "n"], [23, 24, "n"], [28, 29, "n"], [28, 34, "n"], [31, 32, "n"], [31, 33, "n"],
];

const feb17Soil: N[] = [
  ["", 1234, 1201, "c"], ["", 1282, 1205, "c"], ["", 1172, 1213, "c"], ["Gibel", 1329, 1228, "R", "b"],
  ["", 1255, 1217, "c"], ["MethP", 1207, 1234, "E", "o"], ["", 1150, 1237, "c"], ["Nocar", 1261, 1257, "E", "b"],
  ["Pedob", 1358, 1264, "E", "o"], ["", 1303, 1269, "c"], ["Uncl.", 1176, 1274, "E", "o"], ["", 1134, 1288, "c"],
  ["", 1346, 1297, "c"], ["Massi", 1201, 1303, "E", "b"], ["Clado", 1287, 1300, "R", "b"], ["", 1143, 1307, "s"],
  ["", 1166, 1323, "c"], ["Clado", 1250, 1333, "R", "b"], ["", 1325, 1331, "c"], ["", 1201, 1342, "c"],
  ["Uncl.", 1156, 1360, "E", "b"], ["", 1337, 1359, "s"], ["MethP", 1283, 1371, "E", "o"], ["Steno", 1208, 1383, "E", "b"],
  ["", 1265, 1395, "c"], ["", 1323, 1395, "s"],
];
const feb17SoilLinks: L[] = [
  [5, 10, "p"], [3, 7, "p"], [6, 10, "p"], [10, 11, "p"], [10, 15, "p"], [10, 16, "p"], [7, 13, "p"],
  [7, 14, "p"], [12, 18, "p"], [13, 19, "p"], [17, 23, "p"], [17, 21, "p"], [22, 25, "p"], [9, 12, "p"],
  [0, 5, "n"], [2, 10, "n"], [5, 7, "n"], [5, 17, "n"], [1, 7, "n"], [4, 7, "n"], [9, 13, "n"], [14, 12, "n"],
  [17, 18, "n"], [16, 19, "n"], [19, 22, "n"], [14, 22, "n"], [23, 24, "n"],
];

const networks: [N[], L[]][] = [
  [july16, july16Links], [oct16Above, oct16AboveLinks], [dec16Above, dec16AboveLinks], [feb16Above, feb16AboveLinks],
  [oct16Soil, oct16SoilLinks], [dec16Soil, dec16SoilLinks], [feb16Soil, feb16SoilLinks],
  [july17, july17Links], [oct17Above, oct17AboveLinks], [dec17Above, dec17AboveLinks], [feb17Above, feb17AboveLinks],
  [oct17Soil, oct17SoilLinks], [dec17Soil, dec17SoilLinks], [feb17Soil, feb17SoilLinks],
];

const nodeRows = networks.flatMap(([ns]) =>
  ns.map(([label, x, y, kind, promo]) => ({ label, x, y, kind, promo: promo || "w" }))
);

// segments separated by a null point so the line breaks between links
function linkRows(sign: string) {
  const rows: { x: number; y: number | null }[] = [];
  networks.forEach(([ns, ls]) => {
    ls.forEach(([a, b, s]) => {
      if (s !== sign) return;
      rows.push({ x: ns[a][1], y: ns[a][2] }, { x: ns[b][1], y: ns[b][2] }, { x: ns[b][1], y: null });
    });
  });
  return rows;
}
const positiveRows = linkRows("p");
const negativeRows = linkRows("n");

const GREEN = "#22c722";
const RED = "#ee1515";
const FILLS: Record<string, string> = { o: "#f9d596", b: "#bfdaf5", w: "#ffffff" };
const SANS = "'Liberation Sans', Arial, sans-serif";
const SERIF = "'Liberation Serif', 'Times New Roman', serif";

function NodeShape(props: any) {
  const { cx, cy, payload } = props;
  if (cx == null || cy == null) return null;
  const { label, kind, promo } = payload;
  if (kind === "c") {
    return <ellipse cx={cx} cy={cy} rx={6} ry={5.5} fill="#fff" stroke="#9c9c9c" strokeWidth={1} />;
  }
  if (kind === "s") {
    return <rect x={cx - 6} y={cy - 6} width={12} height={12} fill="#fff" stroke="#9c9c9c" strokeWidth={1} />;
  }
  const dark = label === "Zymos";
  return (
    <g>
      {kind === "R" ? (
        <rect x={cx - 26.5} y={cy - 13} width={53} height={26} fill={FILLS[promo]}
          stroke={dark ? "#4a4a4a" : "#929292"} strokeWidth={dark ? 1.6 : 1} />
      ) : (
        <ellipse cx={cx} cy={cy} rx={26.5} ry={13.5} fill={FILLS[promo]} stroke="#929292" strokeWidth={1} />
      )}
      <text x={cx} y={cy + 5} textAnchor="middle" fontFamily={SANS} fontSize={14} fill="#111">
        {label}
      </text>
    </g>
  );
}

function Arrow({ x1, y1, x2, y2 }: { x1: number; y1: number; x2: number; y2: number }) {
  const a = Math.atan2(y2 - y1, x2 - x1);
  const h = 9;
  const p1 = [x2 - h * Math.cos(a - 0.35), y2 - h * Math.sin(a - 0.35)];
  const p2 = [x2 - h * Math.cos(a + 0.35), y2 - h * Math.sin(a + 0.35)];
  return (
    <g>
      <line x1={x1} y1={y1} x2={x2 - 5 * Math.cos(a)} y2={y2 - 5 * Math.sin(a)} stroke="#111" strokeWidth={1.6} />
      <polygon points={`${x2},${y2} ${p1[0]},${p1[1]} ${p2[0]},${p2[1]}`} fill="#111" />
    </g>
  );
}

const months = ["October", "December", "February"];
const monthCenters16 = [511, 880, 1254];
const monthCenters17 = [507, 860, 1254];
const rules16: [number, number][] = [[388, 646], [758, 1017], [1132, 1390]];
const rules17: [number, number][] = [[384, 642], [738, 996], [1132, 1390]];

const legendItems = [
  { y: 1369, mark: "circle", text: "Bacteria" },
  { y: 1399, mark: "square", text: "Fungi" },
  { y: 1451, mark: "o", text: "Promoted in inoculated condition" },
  { y: 1484, mark: "b", text: "Promoted in non-inoculated condition" },
  { y: 1516, mark: "w", text: "Not promoted in either condition" },
  { y: 1551, mark: "pos", text: "Positive interaction" },
  { y: 1571, mark: "neg", text: "Negative interaction" },
];

function Overlay() {
  return (
    <svg width={W} height={H} style={{ position: "absolute", left: 0, top: 0, pointerEvents: "none" }}>
      <g fontFamily={SERIF} fill="#111">
        <text x={57} y={38} fontSize={32}>2016-2017</text>
        <text x={57} y={745} fontSize={32}>2017-2018</text>
        {months.map((m, i) => (
          <text key={"a" + m} x={monthCenters16[i]} y={23} fontSize={27} textAnchor="middle">{m}</text>
        ))}
        {months.map((m, i) => (
          <text key={"b" + m} x={monthCenters17[i]} y={727} fontSize={27} textAnchor="middle">{m}</text>
        ))}
        <text x={184} y={208} fontSize={27} textAnchor="middle">July*</text>
        <text x={184} y={985} fontSize={27} textAnchor="middle">July</text>
        <text x={343} y={187} fontSize={27} textAnchor="middle" transform="rotate(-90 343 187)">Above ground</text>
        <text x={343} y={474} fontSize={27} textAnchor="middle" transform="rotate(-90 343 474)">Soil contact</text>
        <text x={343} y={893} fontSize={27} textAnchor="middle" transform="rotate(-90 343 893)">Above ground</text>
        <text x={343} y={1298} fontSize={27} textAnchor="middle" transform="rotate(-90 343 1298)">Soil contact</text>
      </g>
      {rules16.map(([a, b]) => (
        <line key={"r16" + a} x1={a} x2={b} y1={30} y2={30} stroke="#111" strokeWidth={2} />
      ))}
      {rules17.map(([a, b]) => (
        <line key={"r17" + a} x1={a} x2={b} y1={735} y2={735} stroke="#111" strokeWidth={2} />
      ))}
      <line x1={358} x2={358} y1={66} y2={323} stroke="#111" strokeWidth={2} />
      <line x1={358} x2={358} y1={355} y2={613} stroke="#111" strokeWidth={2} />
      <line x1={354} x2={354} y1={771} y2={1029} stroke="#111" strokeWidth={2} />
      <line x1={354} x2={354} y1={1175} y2={1432} stroke="#111" strokeWidth={2} />

      <text x={64} y={521} fontFamily={SANS} fontSize={24} fill="#111">* Only fungal ASV</text>

      <g fontFamily={SANS} fontSize={13} fill="#111">
        <Arrow x1={109} y1={1256} x2={109} y2={1226} />
        <text x={106} y={1270} textAnchor="middle">Saroc</text>
        <Arrow x1={408} y1={936} x2={428} y2={914} />
        <text x={395} y={951} textAnchor="middle">Sangu</text>
        <Arrow x1={425} y1={1172} x2={425} y2={1206} />
        <text x={425} y={1166} textAnchor="middle">Uncl.</text>
        <Arrow x1={560} y1={1158} x2={547} y2={1182} />
        <text x={567} y={1153} textAnchor="middle">Artic</text>
      </g>

      <g fontFamily={SANS} fontSize={14} fill="#111">
        {legendItems.map((it) => (
          <g key={it.text}>
            {it.mark === "circle" && <circle cx={14} cy={it.y} r={9.5} fill="#fff" stroke="#222" strokeWidth={1.5} />}
            {it.mark === "square" && <rect x={5} y={it.y - 9.5} width={19} height={19} fill="#fff" stroke="#222" strokeWidth={1.5} />}
            {(it.mark === "o" || it.mark === "b" || it.mark === "w") && (
              <rect x={5} y={it.y - 9.5} width={19} height={19} rx={4} fill={FILLS[it.mark]} stroke="#222" strokeWidth={1.5} />
            )}
            {it.mark === "pos" && <line x1={0} x2={36} y1={it.y} y2={it.y} stroke={GREEN} strokeWidth={2.5} />}
            {it.mark === "neg" && <line x1={0} x2={36} y1={it.y} y2={it.y} stroke={RED} strokeWidth={2.5} />}
            <text x={44} y={it.y + 5}>{it.text}</text>
          </g>
        ))}
      </g>
    </svg>
  );
}

export default function App() {
  return (
    <div style={{ position: "absolute", left: 0, top: 0, width: W, height: H, background: "#fff" }}>
      <ComposedChart width={W} height={H} margin={{ top: 0, right: 0, bottom: 0, left: 0 }}>
        <XAxis type="number" dataKey="x" domain={[0, W]} hide allowDataOverflow />
        <YAxis type="number" dataKey="y" domain={[0, H]} reversed hide allowDataOverflow />
        <Line data={positiveRows} dataKey="y" stroke={GREEN} strokeWidth={2.3} dot={false} activeDot={false}
          connectNulls={false} isAnimationActive={false} />
        <Line data={negativeRows} dataKey="y" stroke={RED} strokeWidth={2.3} dot={false} activeDot={false}
          connectNulls={false} isAnimationActive={false} />
        <Scatter data={nodeRows} dataKey="y" shape={NodeShape} isAnimationActive={false} />
      </ComposedChart>
      <Overlay />
    </div>
  );
}
